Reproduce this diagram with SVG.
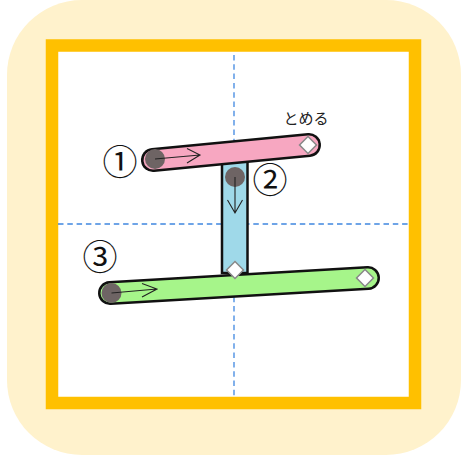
<svg xmlns="http://www.w3.org/2000/svg" width="463" height="458" viewBox="0 0 463 458">
<style>
.guide{stroke:#3f87e0;stroke-width:1.3;stroke-dasharray:5.5 3.8;fill:none}
.outline{stroke:#111;stroke-linecap:round;fill:none}
.dot{fill:#6e6464}
.arr{stroke:#222;stroke-width:1.1;fill:none}
.dia{fill:#fff;stroke:#888;stroke-width:1.5}
.num{font-family:"Noto Sans CJK JP","DejaVu Sans",sans-serif;font-size:35px;fill:#111;text-anchor:middle}
.lbl{font-family:"Noto Sans CJK JP",sans-serif;font-size:15px;fill:#222;text-anchor:middle}
</style>
<rect x="7" y="0" width="454" height="455" rx="75" fill="#fff2cc"/>
<rect x="52" y="45.5" width="363" height="357.5" fill="#fff" stroke="#ffc000" stroke-width="12.5"/>
<g id="guides">
<line class="guide" x1="234" y1="55" x2="234" y2="397"/>
<line class="guide" x1="58" y1="224" x2="409" y2="224"/>
</g>
<g id="stroke2">
<rect x="222" y="160" width="25.5" height="113" fill="#9fd9e9" stroke="#111" stroke-width="2.5"/>
</g>
<g id="stroke1">
<line class="outline" x1="153" y1="160" x2="309" y2="145" stroke-width="24"/>
<line x1="153" y1="160" x2="309" y2="145" stroke="#f7a7c1" stroke-width="19" stroke-linecap="round"/>
</g>
<g id="stroke3">
<line class="outline" x1="110" y1="293" x2="368" y2="278" stroke-width="24"/>
<line x1="110" y1="293" x2="368" y2="278" stroke="#a6f58a" stroke-width="19" stroke-linecap="round"/>
</g>
<g id="connectors">
<circle class="dot" cx="155" cy="159" r="10"/>
<path class="arr" d="M155 159 L200 155 M187 148.5 L200 155 L187 163"/>
<circle class="dot" cx="235" cy="177" r="10"/>
<path class="arr" d="M235 177 L235 213 M227.5 200 L235 213 L242.5 200"/>
<circle class="dot" cx="111.5" cy="293" r="10"/>
<path class="arr" d="M111.5 293 L157 289 M142 283.5 L157 289 L142 297"/>
</g>
<g id="markers">
<rect class="dia" x="-6" y="-6" width="12" height="12" transform="translate(308,145) rotate(45)"/>
<rect class="dia" x="-6" y="-6" width="12" height="12" transform="translate(235,270) rotate(45)"/>
<rect class="dia" x="-6" y="-6" width="12" height="12" transform="translate(365,278) rotate(45)"/>
</g>
<g id="labels">
<text class="num" x="120" y="174.5">①</text>
<text class="num" x="270" y="193">②</text>
<text class="num" x="100" y="270">③</text>
<text class="lbl" x="306" y="124">とめる</text>
</g>
</svg>
